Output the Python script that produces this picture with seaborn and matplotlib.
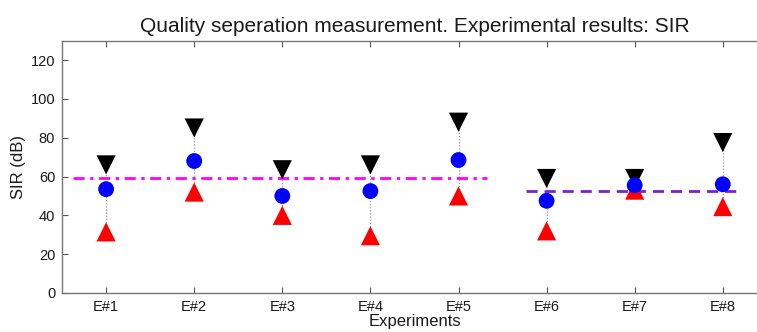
import numpy as np
import pandas as pd
import matplotlib
matplotlib.use("Agg")
import matplotlib.pyplot as plt
import seaborn as sns

categories = ["E#1", "E#2", "E#3", "E#4", "E#5", "E#6", "E#7", "E#8"]
upper = [66, 85, 63.5, 66, 88, 59, 59, 77.5]     # black down-triangles
mean_vals = [53.5, 68, 50, 52.5, 68.5, 47.5, 55.5, 56]  # blue circles
lower = [31.5, 52, 40, 29.5, 50, 32, 53, 44.5]   # red up-triangles
group1_mean = 59.2
group2_mean = 52.7
group1_span = [0.62, 5.32]
group2_span = [5.77, 8.19]

sns.set_theme(style="white")
plt.rcParams["font.family"] = ["Liberation Sans", "DejaVu Sans"]

pos = np.arange(1, len(categories) + 1)
df = pd.DataFrame({"x": pos, "upper": upper, "mean": mean_vals, "lower": lower})

fig = plt.figure(figsize=(7.57, 3.32), dpi=100)
ax = fig.add_axes([0.082, 0.1175, 0.931, 0.76])

ax.vlines(df["x"], df["lower"], df["upper"], colors="#999999",
          linestyles=(0, (1, 1.5)), linewidth=0.9, zorder=1)

ax.hlines(group1_mean, group1_span[0], group1_span[1], colors="#ff00ff",
          linestyles=(0, (4, 2, 1.2, 2)), linewidth=2, zorder=2)
ax.hlines(group2_mean, group2_span[0], group2_span[1], colors="#7a1fe0",
          linestyles=(0, (4, 2.5)), linewidth=2, zorder=2)

sns.scatterplot(data=df, x="x", y="upper", marker="v", color="black",
                s=190, edgecolor="none", ax=ax, zorder=3)
sns.scatterplot(data=df, x="x", y="lower", marker="^", color="red",
                s=190, edgecolor="none", ax=ax, zorder=3)
sns.scatterplot(data=df, x="x", y="mean", marker="o", color="blue",
                s=130, edgecolor="none", ax=ax, zorder=4)

ax.set_xlim(0.5, 8.5)
ax.set_ylim(0, 130)
ax.set_xticks(pos)
ax.set_xticklabels(categories)
ax.set_yticks(np.arange(0, 121, 20))
ax.tick_params(direction="in", length=4, width=0.8, color="#555555",
               labelsize=10.5, top=True, right=True, bottom=True, left=True,
               pad=5, labelcolor="#1a1a1a")
for s in ax.spines.values():
    s.set_color("#777777")
    s.set_linewidth(1.0)

ax.set_xlabel("Experiments", fontsize=12, labelpad=0, color="#1a1a1a")
ax.set_ylabel("SIR (dB)", fontsize=12, labelpad=3, color="#1a1a1a")
ax.set_title("Quality seperation measurement. Experimental results: SIR",
             fontsize=15, pad=6, color="#1a1a1a")

fig.savefig("out.png", dpi=100)
